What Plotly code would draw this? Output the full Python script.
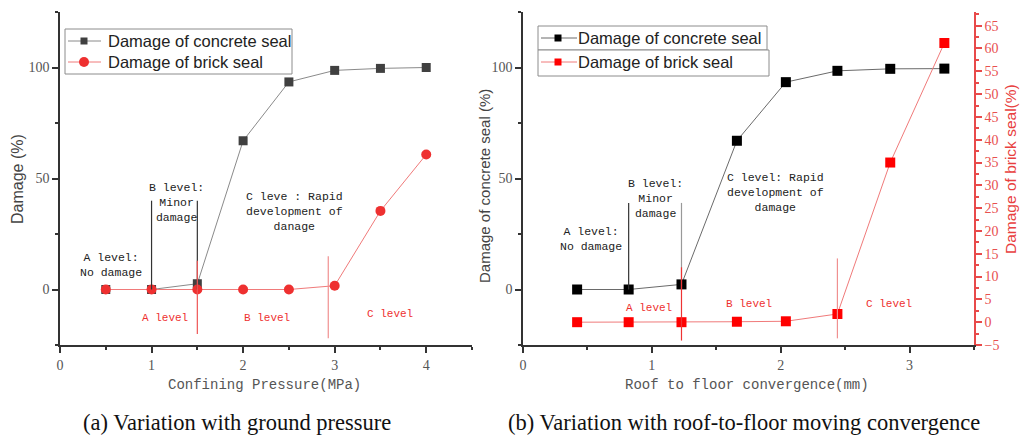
import plotly.graph_objects as go

# ---------------- data ----------------
# (a) Variation with ground pressure
pressure = [0.5, 1.0, 1.5, 2.0, 2.5, 3.0, 3.5, 4.0]
concrete_a = [0.0, 0.0, 2.6, 67.0, 93.5, 98.7, 99.6, 100.0]
brick_a = [0.0, 0.0, 0.0, 0.0, 0.0, 1.7, 35.4, 60.8]

# (b) Variation with roof-to-floor convergence
convergence = [0.42, 0.82, 1.23, 1.66, 2.04, 2.44, 2.85, 3.27]
concrete_b = [0.0, 0.0, 2.3, 67.0, 93.4, 98.5, 99.4, 99.5]
brick_b = [0.0, 0.0, 0.0, 0.1, 0.2, 1.8, 35.0, 61.2]

series_names = ["Damage of concrete seal", "Damage of brick seal"]

W, H = 1022, 435
def px(x):
    return x / W
def py(y):
    return 1 - y / H

RED = "#ee3030"
RED_LINE = "#f07a7a"
TICK_FONT = dict(family="Liberation Serif", size=14, color="#555555")
MONO = "Liberation Mono"

fig = go.Figure()

# panel (a)
fig.add_trace(go.Scatter(x=pressure, y=concrete_a, mode="lines+markers",
                         name=series_names[0], showlegend=False,
                         line=dict(color="#8a8a8a", width=1),
                         marker=dict(symbol="square", size=9, color="#404040"),
                         xaxis="x", yaxis="y"))
fig.add_trace(go.Scatter(x=pressure, y=brick_a, mode="lines+markers",
                         name=series_names[1], showlegend=False,
                         line=dict(color=RED_LINE, width=1),
                         marker=dict(symbol="circle", size=10, color=RED),
                         xaxis="x", yaxis="y"))

# panel (b)
fig.add_trace(go.Scatter(x=convergence, y=concrete_b, mode="lines+markers",
                         name=series_names[0], showlegend=False,
                         line=dict(color="#6a6a6a", width=1),
                         marker=dict(symbol="square", size=10, color="#000000"),
                         xaxis="x2", yaxis="y2"))
fig.add_trace(go.Scatter(x=convergence, y=brick_b, mode="lines+markers",
                         name=series_names[1], showlegend=False,
                         line=dict(color=RED_LINE, width=1),
                         marker=dict(symbol="square", size=10, color="#ff0000"),
                         xaxis="x2", yaxis="y3"))

axis_common = dict(showgrid=False, zeroline=False, showline=True,
                   linecolor="#333333", linewidth=1.5, ticks="outside",
                   ticklen=6, tickwidth=1.5, tickcolor="#333333",
                   tickfont=TICK_FONT)

ydom = [py(345), py(12)]

fig.update_layout(
    width=W, height=H,
    margin=dict(l=0, r=0, t=0, b=0, autoexpand=False),
    paper_bgcolor="white", plot_bgcolor="white",
    showlegend=False,
    xaxis=dict(domain=[px(60), px(472)], range=[0, 4.5], anchor="y",
               dtick=1, tick0=0,
               minor=dict(dtick=0.5, ticks="outside", ticklen=3, tickcolor="#333333"),
               **axis_common),
    yaxis=dict(domain=ydom, range=[-25, 125], anchor="x",
               dtick=50, tick0=0,
               minor=dict(dtick=25, ticks="outside", ticklen=3, tickcolor="#333333"),
               **axis_common),
    xaxis2=dict(domain=[px(523), px(974)], range=[0, 3.5], anchor="y2",
                dtick=1, tick0=0,
                minor=dict(dtick=0.5, ticks="outside", ticklen=3, tickcolor="#333333"),
                **axis_common),
    yaxis2=dict(domain=ydom, range=[-25, 125], anchor="x2",
                dtick=50, tick0=0,
                minor=dict(dtick=25, ticks="outside", ticklen=3, tickcolor="#333333"),
                **axis_common),
    yaxis3=dict(overlaying="y2", side="right", anchor="x2", range=[-5, 68],
                dtick=5, tick0=0, showgrid=False, zeroline=False, showline=True,
                linecolor="#e84a4a", linewidth=1.5, ticks="outside", ticklen=6,
                tickwidth=1.5, tickcolor="#e84a4a",
                minor=dict(dtick=2.5, ticks="outside", ticklen=3, tickcolor="#e84a4a"),
                tickfont=dict(family="Liberation Serif", size=14, color="#e85050")),
)

shapes = []
def vline(xref, yref, x, y0, y1, color):
    shapes.append(dict(type="line", xref=xref, yref=yref, x0=x, x1=x, y0=y0, y1=y1,
                       line=dict(color=color, width=1.2)))

# panel (a) level boundaries
vline("x", "y", 1.0, 0, 40, "#333333")
vline("x", "y", 1.5, 0, 40, "#333333")
vline("x", "y", 1.5, 13, -20, "#ee5555")
vline("x", "y", 2.93, 15, -22, "#f09090")
# panel (b) level boundaries
vline("x2", "y2", 0.82, 0, 39, "#333333")
vline("x2", "y2", 1.23, 0, 39, "#999999")
vline("x2", "y2", 1.23, 10, -23, "#ee3333")
vline("x2", "y2", 2.44, 14, -22, "#f09090")

ann = []
def note(xref, yref, x, y, text, color="#222222", size=11.5, family=MONO):
    ann.append(dict(xref=xref, yref=yref, x=x, y=y, text=text, showarrow=False,
                    font=dict(family=family, size=size, color=color),
                    align="center", xanchor="center", yanchor="middle"))

note("x", "y", 0.56, 11, "A level:<br>No damage")
note("x", "y", 1.27, 39, "B level:<br>Minor<br>damage")
note("x", "y", 2.56, 35, "C leve : Rapid<br>development of<br>danage")
note("x", "y", 1.15, -13, "A level", RED, 11)
note("x", "y", 2.26, -13, "B level", RED, 11)
note("x", "y", 3.6, -11, "C level", RED, 11)

note("x2", "y2", 0.53, 22.7, "A level:<br>No damage")
note("x2", "y2", 1.03, 40.8, "B level:<br>Minor<br>damage")
note("x2", "y2", 1.96, 43.5, "C level: Rapid<br>development of<br>damage")
note("x2", "y2", 0.98, -8.3, "A level", RED, 11)
note("x2", "y2", 1.75, -6.5, "B level", RED, 11)
note("x2", "y2", 2.84, -6.5, "C level", RED, 11)

def ptext(x, y, text, size, family, color, angle=0, xanchor="center"):
    ann.append(dict(xref="paper", yref="paper", x=px(x), y=py(y), text=text,
                    showarrow=False, textangle=angle,
                    font=dict(family=family, size=size, color=color),
                    xanchor=xanchor, yanchor="middle"))

# ---- hand-drawn legends (boxes, glyphs, labels) ----
def box(x0, y0, x1, y1):
    shapes.append(dict(type="rect", xref="paper", yref="paper",
                       x0=px(x0), x1=px(x1), y0=py(y1), y1=py(y0),
                       line=dict(color="#8c8c8c", width=1), fillcolor="white",
                       layer="above"))

def glyph(xl, xr, xm, y, line_color, mark_color, symbol, s):
    shapes.append(dict(type="line", xref="paper", yref="paper",
                       x0=px(xl), x1=px(xr), y0=py(y), y1=py(y),
                       line=dict(color=line_color, width=1)))
    shapes.append(dict(type="rect" if symbol == "square" else "circle",
                       xref="paper", yref="paper",
                       x0=px(xm - s), x1=px(xm + s), y0=py(y + s), y1=py(y - s),
                       line=dict(color=mark_color, width=0), fillcolor=mark_color))

LEG_FONT = 16.5
# legend (a)
box(65, 29, 292, 74)
glyph(68, 101, 84, 41, "#8a8a8a", "#404040", "square", 3.5)
glyph(68, 101, 84, 62, RED_LINE, RED, "circle", 5)
ptext(106, 41, series_names[0], LEG_FONT, "Liberation Sans", "#222222", xanchor="left")
ptext(106, 62, series_names[1], LEG_FONT, "Liberation Sans", "#222222", xanchor="left")

# legends (b)
box(538, 26, 767, 50)
box(538, 50, 769, 76)
glyph(541, 577, 558, 38, "#6a6a6a", "#000000", "square", 3.5)
glyph(541, 577, 558, 62, RED_LINE, "#ff0000", "square", 3.5)
ptext(576, 38, series_names[0], LEG_FONT, "Liberation Sans", "#222222", xanchor="left")
ptext(576, 62, series_names[1], LEG_FONT, "Liberation Sans", "#222222", xanchor="left")

# axis titles and captions
ptext(264, 385, "Confining Pressure(MPa)", 14, MONO, "#555555")
ptext(747, 385, "Roof to floor convergence(mm)", 14, MONO, "#555555")
ptext(17, 179, "Damage (%)", 16, "Liberation Sans", "#444444", -90)
ptext(485, 186, "Damage of concrete seal (%)", 15, "Liberation Sans", "#444444", -90)
ptext(1010, 169, "Damage of brick seal(%)", 15.5, "Liberation Sans", "#e84040", -90)
ptext(237, 422, "(a) Variation with ground pressure", 22.5, "Liberation Serif", "#111111")
ptext(744, 422, "(b) Variation with roof-to-floor moving convergence", 22.5, "Liberation Serif", "#111111")

fig.update_layout(shapes=shapes, annotations=ann)

fig.write_html(
    "out.html",
    config={"displayModeBar": False},
    post_script="document.body.style.margin='0';document.body.style.padding='0';document.body.style.overflow='hidden';",
)
